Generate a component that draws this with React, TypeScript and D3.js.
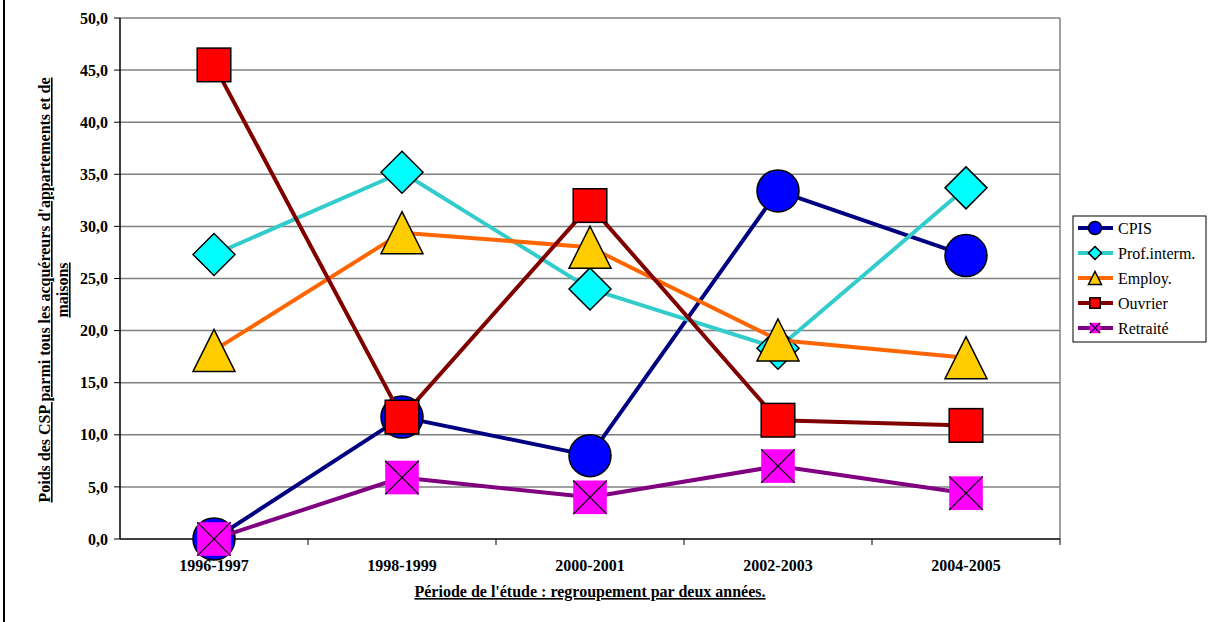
import React from "react";
import * as d3 from "d3";

const categories = ["1996-1997", "1998-1999", "2000-2001", "2002-2003", "2004-2005"];
const cpis = [0.0, 11.7, 8.0, 33.4, 27.2];
const profInterm = [27.3, 35.2, 24.0, 18.3, 33.7];
const employ = [18.1, 29.4, 28.0, 19.1, 17.4];
const ouvrier = [45.5, 11.7, 32.0, 11.4, 10.9];
const retraite = [0.0, 5.9, 4.0, 7.0, 4.4];
const yTicks = [0, 5, 10, 15, 20, 25, 30, 35, 40, 45, 50];

type Sym = "circle" | "diamond" | "triangle" | "square" | "xsquare";
const series: { name: string; values: number[]; line: string; fill: string; sym: Sym }[] = [
  { name: "CPIS", values: cpis, line: "#000080", fill: "#0000FF", sym: "circle" },
  { name: "Prof.interm.", values: profInterm, line: "#33CCCC", fill: "#00FFFF", sym: "diamond" },
  { name: "Employ.", values: employ, line: "#FF6600", fill: "#FFCC00", sym: "triangle" },
  { name: "Ouvrier", values: ouvrier, line: "#800000", fill: "#FF0000", sym: "square" },
  { name: "Retraité", values: retraite, line: "#800080", fill: "#FF00FF", sym: "xsquare" },
];

const FONT = "'Liberation Serif', 'DejaVu Serif', serif";
const tStyle: React.CSSProperties = { fontFamily: FONT };

function Marker({ sym, x, y, s, fill }: { sym: Sym; x: number; y: number; s: number; fill: string }) {
  const h = s / 2;
  const sw = 1.5;
  if (sym === "circle") return <circle cx={x} cy={y} r={h} fill={fill} stroke="#000" strokeWidth={sw} />;
  if (sym === "diamond")
    return <path d={`M${x},${y - h}L${x + h},${y}L${x},${y + h}L${x - h},${y}Z`} fill={fill} stroke="#000" strokeWidth={sw} />;
  if (sym === "triangle")
    return <path d={`M${x},${y - h}L${x + h},${y + h}L${x - h},${y + h}Z`} fill={fill} stroke="#000" strokeWidth={sw} />;
  const q = h * 0.8;
  if (sym === "square")
    return <rect x={x - q} y={y - q} width={2 * q} height={2 * q} fill={fill} stroke="#000" strokeWidth={sw} />;
  return (
    <g>
      <rect x={x - q} y={y - q} width={2 * q} height={2 * q} fill={fill} stroke="none" />
      <path d={`M${x - q},${y - q}L${x + q},${y + q}M${x + q},${y - q}L${x - q},${y + q}`} stroke="#000" strokeWidth={1.2} />
    </g>
  );
}

export default function App() {
  const W = 1211, H = 622;
  const left = 120, right = 1060, top = 18, bottom = 539;
  const x = d3.scaleBand<string>().domain(categories).range([left, right]);
  const y = d3.scaleLinear().domain([0, 50]).range([bottom, top]);
  const cx = (c: string) => (x(c) as number) + x.bandwidth() / 2;
  const line = d3.line<[number, number]>().x((d) => d[0]).y((d) => d[1]);
  const fmt = (v: number) => v.toFixed(1).replace(".", ",");

  return (
    <svg width={W} height={H} style={{ position: "absolute", left: 0, top: 0, background: "#fff", fontFamily: FONT }}>
      <rect x={0} y={0} width={W} height={H} fill="#fff" />
      <line x1={4} y1={0} x2={4} y2={H} stroke="#000" strokeWidth={2} />
      {yTicks.filter((t) => t > 0).map((t) => (
        <line key={t} x1={left} x2={right} y1={y(t)} y2={y(t)} stroke="#808080" strokeWidth={1.5} />
      ))}
      <line x1={right} x2={right} y1={top} y2={bottom} stroke="#808080" strokeWidth={1.5} />
      <line x1={left} x2={left} y1={top} y2={bottom} stroke="#000" strokeWidth={1.5} />
      <line x1={left} x2={right} y1={bottom} y2={bottom} stroke="#000" strokeWidth={1.5} />
      {yTicks.map((t) => (
        <g key={t}>
          <line x1={left - 6} x2={left} y1={y(t)} y2={y(t)} stroke="#000" strokeWidth={1} />
          <text x={108} y={y(t)} dy="0.35em" textAnchor="end" fontSize={16} fontWeight="bold" style={tStyle}>
            {fmt(t)}
          </text>
        </g>
      ))}
      {categories.map((c) => (
        <g key={c}>
          <line x1={(x(c) as number) + x.bandwidth()} x2={(x(c) as number) + x.bandwidth()} y1={bottom} y2={bottom + 6} stroke="#000" strokeWidth={1} />
          <text x={cx(c)} y={571} textAnchor="middle" fontSize={16} fontWeight="bold" style={tStyle}>
            {c}
          </text>
        </g>
      ))}
      <text x={590} y={597} textAnchor="middle" fontSize={16} fontWeight="bold" textDecoration="underline" style={tStyle}>
        Période de l'étude : regroupement par deux années.
      </text>
      <text transform="translate(50,290) rotate(-90)" textAnchor="middle" fontSize={16} fontWeight="bold" textDecoration="underline" style={tStyle}>
        Poids des CSP parmi tous les acquéreurs d'appartements et de
      </text>
      <text transform="translate(68,290) rotate(-90)" textAnchor="middle" fontSize={16} fontWeight="bold" textDecoration="underline" style={tStyle}>
        maisons
      </text>
      {series.map((s) => {
        const pts: [number, number][] = s.values.map((v, i) => [cx(categories[i]), y(v)]);
        return (
          <g key={s.name}>
            <path d={line(pts) || ""} fill="none" stroke={s.line} strokeWidth={4} strokeLinejoin="round" />
            {pts.map((p, i) => (
              <Marker key={i} sym={s.sym} x={p[0]} y={p[1]} s={42} fill={s.fill} />
            ))}
          </g>
        );
      })}
      <rect x={1073} y={216} width={133} height={126} fill="#fff" stroke="#000" strokeWidth={1} />
      {series.map((s, i) => {
        const ly = 228 + i * 25;
        return (
          <g key={s.name}>
            <line x1={1078} x2={1113} y1={ly} y2={ly} stroke={s.line} strokeWidth={4} />
            <Marker sym={s.sym} x={1095} y={ly} s={13} fill={s.fill} />
            <text x={1118} y={ly} dy="0.35em" fontSize={16} style={tStyle}>
              {s.name}
            </text>
          </g>
        );
      })}
    </svg>
  );
}
